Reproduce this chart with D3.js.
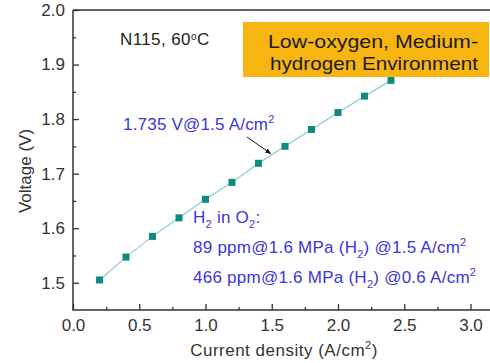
<!DOCTYPE html>
<html>
<head>
<meta charset="utf-8">
<script src="https://cdn.jsdelivr.net/npm/d3@7"></script>
<style>
  html, body { margin: 0; padding: 0; background: #fff; }
  svg { display: block; }
</style>
</head>
<body>
<svg id="chart" width="490" height="363"></svg>
<script>
// Polarization curve data: current density (A/cm²) vs cell voltage (V)
const currentDensity = [0.2, 0.4, 0.6, 0.8, 1.0, 1.2, 1.4, 1.6, 1.8, 2.0, 2.2, 2.4];
const voltage = [1.505, 1.547, 1.585, 1.619, 1.653, 1.684, 1.719, 1.750, 1.781, 1.812, 1.842, 1.871];
const xTicks = [0.0, 0.5, 1.0, 1.5, 2.0, 2.5, 3.0];
const yTicks = [1.5, 1.6, 1.7, 1.8, 1.9, 2.0];
const xMinorTicks = [0.25, 0.75, 1.25, 1.75, 2.25, 2.75];
const yMinorTicks = [1.55, 1.65, 1.75, 1.85, 1.95];
const annotatedPoint = { x: 1.5, y: 1.735 };

const svg = d3.select("#chart");
const plot = { left: 73, top: 10, right: 497, bottom: 310 };

const x = d3.scaleLinear().domain([0, 3.2]).range([plot.left, plot.right]);
const y = d3.scaleLinear().domain([1.45, 2.0]).range([plot.bottom, plot.top]);

const axisColor = "#333";
const fontFamily = "'Liberation Sans', Arial, sans-serif";

// Frame (left, bottom, top)
svg.append("path")
  .attr("d", `M${plot.left},${plot.top}H${plot.right}M${plot.left},${plot.top}V${plot.bottom}H${plot.right}`)
  .attr("fill", "none").attr("stroke", axisColor).attr("stroke-width", 1.5);

// Axes with inward ticks
const xAxis = svg.append("g").attr("transform", `translate(0,${plot.bottom})`)
  .call(d3.axisBottom(x).tickValues(xTicks).tickSize(-6).tickPadding(9).tickFormat(d3.format(".1f")));
const xMinor = svg.append("g").attr("transform", `translate(0,${plot.bottom})`)
  .call(d3.axisBottom(x).tickValues(xMinorTicks).tickSize(-3).tickFormat(""));
const yAxis = svg.append("g").attr("transform", `translate(${plot.left},0)`)
  .call(d3.axisLeft(y).tickValues(yTicks).tickSize(-6).tickPadding(8).tickFormat(d3.format(".1f")));
const yMinor = svg.append("g").attr("transform", `translate(${plot.left},0)`)
  .call(d3.axisLeft(y).tickValues(yMinorTicks).tickSize(-3).tickFormat(""));

[xAxis, xMinor, yAxis, yMinor].forEach(g => {
  g.select(".domain").remove();
  g.selectAll(".tick line").attr("stroke", axisColor).attr("stroke-width", 1.3);
  g.selectAll(".tick text").attr("fill", "#333").attr("font-size", 17).attr("font-family", fontFamily);
});

// Axis titles
svg.append("text")
  .attr("x", 284).attr("y", 356)
  .attr("text-anchor", "middle").attr("font-size", 17).attr("letter-spacing", 0.5)
  .attr("font-family", fontFamily).attr("fill", "#333")
  .call(t => {
    t.append("tspan").text("Current density (A/cm");
    t.append("tspan").attr("font-size", 11).attr("dy", -7).text("2");
    t.append("tspan").attr("dy", 7).text(")");
  });

svg.append("text")
  .attr("transform", "translate(31,171) rotate(-90)")
  .attr("text-anchor", "middle").attr("font-size", 17).attr("font-family", fontFamily).attr("fill", "#333")
  .text("Voltage (V)");

// Data line and markers
const line = d3.line().x((d, i) => x(currentDensity[i])).y(d => y(d));
svg.append("path")
  .datum(voltage)
  .attr("d", line)
  .attr("fill", "none").attr("stroke", "#7fcfc6").attr("stroke-width", 1.2);

const ms = 7;
svg.append("g").selectAll("rect")
  .data(voltage)
  .join("rect")
  .attr("x", (d, i) => x(currentDensity[i]) - ms / 2)
  .attr("y", d => y(d) - ms / 2)
  .attr("width", ms).attr("height", ms)
  .attr("fill", "#0f8a7c");

// Sample label
svg.append("text")
  .attr("x", 120).attr("y", 45)
  .attr("font-size", 17).attr("letter-spacing", 0.4).attr("font-family", fontFamily).attr("fill", "#222")
  .call(t => {
    t.append("tspan").text("N115, 60");
    t.append("tspan").attr("font-size", 10).attr("dy", -5).text("o");
    t.append("tspan").attr("dy", 5).text("C");
  });

// Environment badge
svg.append("rect")
  .attr("x", 243).attr("y", 22).attr("width", 246).attr("height", 55)
  .attr("fill", "#f7b512");
const badgeLines = [["Low-oxygen, Medium-", 48, 210], ["hydrogen Environment", 70, 208]];
badgeLines.forEach(([txt, yy, len]) => {
  svg.append("text")
    .attr("x", 478).attr("y", yy)
    .attr("font-size", 19).attr("font-family", fontFamily).attr("fill", "#1a1a1a")
    .attr("text-anchor", "end")
    .attr("textLength", len).attr("lengthAdjust", "spacingAndGlyphs")
    .text(txt);
});

// Operating point annotation
const blue = "#3a36d8";
svg.append("defs").append("marker")
  .attr("id", "arrowHead").attr("viewBox", "0 0 10 10")
  .attr("refX", 9).attr("refY", 5).attr("markerWidth", 6).attr("markerHeight", 6)
  .attr("orient", "auto")
  .append("path").attr("d", "M0,1L10,5L0,9Z").attr("fill", "#111");

svg.append("text")
  .attr("x", 123).attr("y", 130)
  .attr("font-size", 17).attr("letter-spacing", 0.2).attr("font-family", fontFamily).attr("fill", blue)
  .call(t => {
    t.append("tspan").text(`${annotatedPoint.y.toFixed(3)} V@${annotatedPoint.x} A/cm`);
    t.append("tspan").attr("font-size", 11).attr("dy", -7).text("2");
  });

svg.append("line")
  .attr("x1", 247).attr("y1", 137)
  .attr("x2", x(annotatedPoint.x) - 1).attr("y2", y(annotatedPoint.y) - 1)
  .attr("stroke", "#111").attr("stroke-width", 1)
  .attr("marker-end", "url(#arrowHead)");

// Hydrogen crossover notes
const notes = svg.append("g").attr("font-size", 17).attr("letter-spacing", 0.25)
  .attr("font-family", fontFamily).attr("fill", blue);
notes.append("text").attr("x", 193).attr("y", 223)
  .call(t => {
    t.append("tspan").text("H");
    t.append("tspan").attr("font-size", 11).attr("dy", 5).text("2");
    t.append("tspan").attr("dy", -5).text(" in O");
    t.append("tspan").attr("font-size", 11).attr("dy", 5).text("2");
    t.append("tspan").attr("dy", -5).text(":");
  });
[["89 ppm@1.6 MPa (H", ") @1.5 A/cm", 253], ["466 ppm@1.6 MPa (H", ") @0.6 A/cm", 283]].forEach(([a, b, yy]) => {
  notes.append("text").attr("x", 193).attr("y", yy)
    .call(t => {
      t.append("tspan").text(a);
      t.append("tspan").attr("font-size", 11).attr("dy", 5).text("2");
      t.append("tspan").attr("dy", -5).text(b);
      t.append("tspan").attr("font-size", 11).attr("dy", -7).text("2");
    });
});
</script>
</body>
</html>
